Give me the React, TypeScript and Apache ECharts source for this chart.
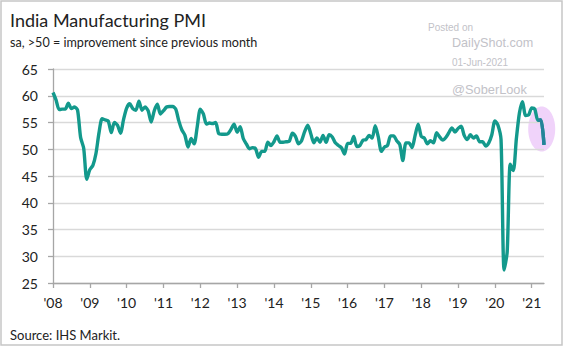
import React, { useEffect, useRef } from "react";
import * as echarts from "echarts";

// Monthly India Manufacturing PMI, Jan 2008 .. May 2021
const pmi2008 = [60.6, 59.2, 57.4, 57.5, 57.5, 58.6, 57.6, 57.9, 57.3, 52.2, 50.2, 44.4];
const pmi2009 = [46.2, 47.0, 49.2, 53.1, 55.7, 55.5, 55.3, 53.1, 55.0, 54.5, 53.0, 55.6];
const pmi2010 = [57.7, 58.5, 57.6, 57.3, 59.0, 57.3, 57.9, 57.2, 55.1, 57.2, 58.4, 56.6];
const pmi2011 = [57.2, 57.9, 58.0, 58.0, 57.5, 55.3, 53.6, 52.6, 50.4, 52.0, 51.0, 54.2];
const pmi2012 = [57.5, 56.6, 54.7, 54.9, 54.8, 55.0, 52.9, 52.8, 52.8, 52.9, 53.7, 54.7];
const pmi2013 = [53.2, 54.2, 52.0, 51.0, 50.1, 50.3, 50.1, 48.5, 49.6, 49.6, 51.3, 50.7];
const pmi2014 = [51.4, 52.5, 51.3, 51.3, 51.4, 51.5, 53.0, 52.4, 51.0, 51.6, 53.3, 54.5];
const pmi2015 = [52.9, 51.2, 52.1, 51.3, 52.6, 51.3, 52.7, 52.3, 51.2, 50.7, 50.3, 49.1];
const pmi2016 = [51.1, 51.1, 52.4, 50.5, 50.7, 51.7, 51.8, 52.6, 52.1, 54.4, 52.3, 49.6];
const pmi2017 = [50.4, 50.7, 52.5, 52.5, 51.6, 50.9, 47.9, 51.2, 51.2, 50.3, 52.6, 54.7];
const pmi2018 = [52.4, 52.1, 51.0, 51.6, 51.2, 53.1, 52.3, 51.7, 52.2, 53.1, 54.0, 53.2];
const pmi2019 = [53.9, 54.3, 52.6, 51.8, 52.7, 52.1, 52.5, 51.4, 51.4, 50.6, 51.2, 52.7];
const pmi2020 = [55.3, 54.5, 51.8, 27.4, 30.8, 47.2, 46.0, 52.0, 56.8, 58.9, 56.3, 56.4];
const pmi2021 = [57.7, 57.5, 55.4, 55.5, 50.8];

const years = [2008, 2009, 2010, 2011, 2012, 2013, 2014, 2015, 2016, 2017, 2018, 2019, 2020, 2021];
const yearly = [pmi2008, pmi2009, pmi2010, pmi2011, pmi2012, pmi2013, pmi2014, pmi2015, pmi2016, pmi2017, pmi2018, pmi2019, pmi2020, pmi2021];

const months: string[] = [];
const values: number[] = [];
yearly.forEach((arr, yi) => {
  arr.forEach((v, mi) => {
    months.push(`${years[yi]}-${String(mi + 1).padStart(2, "0")}`);
    values.push(v);
  });
});

const yTicks = [25, 30, 35, 40, 45, 50, 55, 60, 65];

const FONT = "Lato, 'Noto Sans', sans-serif";
const WM = "'Liberation Sans', Arial, sans-serif";

export default function App() {
  const ref = useRef<HTMLDivElement>(null);
  useEffect(() => {
    if (!ref.current) return;
    const chart = echarts.init(ref.current, null, { renderer: "svg" });
    const lastStart = values.length - 3;
    const tail = values.map((v, i) => (i >= lastStart ? v : null));
    chart.setOption({
      animation: false,
      backgroundColor: "#ffffff",
      grid: { left: 53, right: 20, top: 69, bottom: 64, containLabel: false },
      xAxis: {
        type: "category",
        data: months,
        boundaryGap: false,
        axisLine: { show: true, lineStyle: { color: "#a6a6a6", width: 1.3 } },
        axisTick: {
          show: true,
          interval: (i: number) => i % 12 === 0,
          length: 5,
          lineStyle: { color: "#a6a6a6", width: 1.3 },
        },
        axisLabel: {
          interval: (i: number) => i % 12 === 0,
          formatter: (v: string) => "'" + v.slice(2, 4),
          color: "#222",
          fontFamily: FONT,
          fontSize: 14,
          margin: 12,
        },
        splitLine: { show: false },
      },
      yAxis: {
        type: "value",
        min: yTicks[0],
        max: yTicks[yTicks.length - 1],
        interval: 5,
        axisLine: { show: true, lineStyle: { color: "#a6a6a6", width: 1.3 } },
        axisTick: { show: true, length: 5, lineStyle: { color: "#a6a6a6", width: 1.3 } },
        axisLabel: { color: "#222", fontFamily: FONT, fontSize: 14, margin: 15 },
        splitLine: { show: true, lineStyle: { color: "#d9d9d9", width: 1.3 } },
      },
      series: [
        {
          type: "line",
          data: values,
          smooth: 0.25,
          showSymbol: false,
          symbol: "none",
          lineStyle: { color: "#13998c", width: 3.4 },
          z: 3,
        },
        {
          type: "line",
          data: tail,
          smooth: 0.25,
          showSymbol: false,
          symbol: "none",
          lineStyle: { color: "#24839a", width: 3.4 },
          z: 4,
        },
      ],
      graphic: [
        {
          type: "rect",
          shape: { x: 1, y: 1, width: 561, height: 344 },
          style: { fill: "none", stroke: "#c6c6c6", lineWidth: 1.5 },
          silent: true,
        },
        {
          type: "ellipse",
          shape: { cx: 541.7, cy: 129, rx: 13.5, ry: 22.5 },
          style: { fill: "#f0d3fa" },
          z: 0,
          silent: true,
        },
        {
          type: "text",
          x: 10,
          y: 20,
          style: { text: "India Manufacturing PMI", fill: "#222", font: `18px ${FONT}`, verticalAlign: "middle" },
        },
        {
          type: "text",
          x: 10,
          y: 42,
          style: { text: "sa, >50 = improvement since previous month", fill: "#222", font: `12.6px ${FONT}`, verticalAlign: "middle" },
        },
        {
          type: "text",
          x: 10,
          y: 335,
          style: { text: "Source: IHS Markit.", fill: "#222", font: `13px ${FONT}`, verticalAlign: "middle" },
        },
        {
          type: "text",
          x: 428,
          y: 27,
          style: { text: "Posted on", fill: "#c2c2c8", font: `10px ${WM}`, verticalAlign: "middle" },
        },
        {
          type: "text",
          x: 452,
          y: 43,
          style: { text: "DailyShot.com", fill: "#c2c2c8", font: `12.6px ${WM}`, verticalAlign: "middle" },
        },
        {
          type: "text",
          x: 452,
          y: 62,
          style: { text: "01-Jun-2021", fill: "#c2c2c8", font: `10px ${WM}`, verticalAlign: "middle" },
        },
        {
          type: "text",
          x: 452,
          y: 89,
          style: { text: "@SoberLook", fill: "#c2c2c8", font: `12.8px ${WM}`, verticalAlign: "middle" },
        },
      ],
    });
    return () => chart.dispose();
  }, []);
  return (
    <div
      ref={ref}
      style={{ position: "absolute", left: 0, top: 0, width: 564, height: 347 }}
    />
  );
}
